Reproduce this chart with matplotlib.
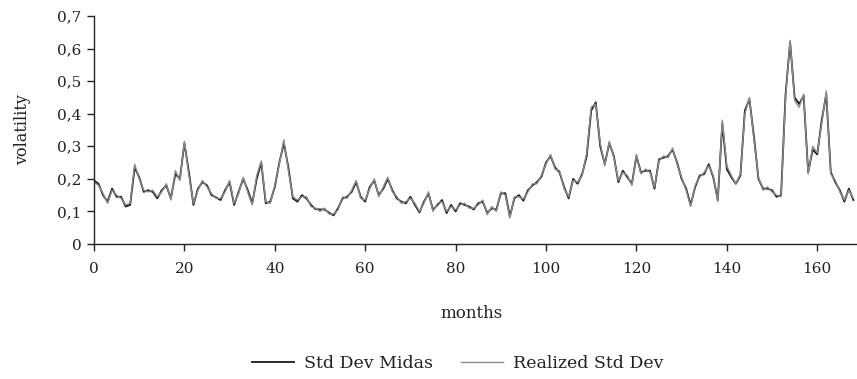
import matplotlib
matplotlib.use("Agg")
import matplotlib.pyplot as plt
from matplotlib.ticker import FuncFormatter
import numpy as np

midas = [
    0.195, 0.185, 0.15, 0.13, 0.17, 0.145, 0.145, 0.115, 0.12, 0.235,
    0.205, 0.16, 0.165, 0.16, 0.14, 0.165, 0.18, 0.14, 0.215, 0.2,
    0.31, 0.22, 0.12, 0.17, 0.19, 0.18, 0.15, 0.143, 0.135, 0.165,
    0.19, 0.12, 0.16, 0.2, 0.166, 0.125, 0.2, 0.25, 0.125, 0.13,
    0.175, 0.25, 0.31, 0.235, 0.14, 0.13, 0.15, 0.14, 0.12, 0.107,
    0.106, 0.106, 0.096, 0.088, 0.11, 0.14, 0.145, 0.16, 0.19, 0.145,
    0.13, 0.175, 0.195, 0.15, 0.17, 0.2, 0.165, 0.14, 0.13, 0.125,
    0.145, 0.12, 0.097, 0.13, 0.155, 0.105, 0.12, 0.135, 0.095, 0.12,
    0.1, 0.125, 0.12, 0.115, 0.106, 0.125, 0.13, 0.095, 0.11, 0.105,
    0.155, 0.156, 0.085, 0.14, 0.15, 0.133, 0.165, 0.18, 0.19, 0.207,
    0.25, 0.27, 0.235, 0.22, 0.175, 0.14, 0.2, 0.185, 0.215, 0.27,
    0.41, 0.435, 0.3, 0.245, 0.31, 0.27, 0.19, 0.225, 0.205, 0.185,
    0.27, 0.22, 0.225, 0.225, 0.17, 0.26, 0.265, 0.27, 0.29, 0.25,
    0.2, 0.17, 0.12, 0.175, 0.21, 0.215, 0.245, 0.205, 0.135, 0.37,
    0.23, 0.205, 0.185, 0.21, 0.41, 0.445, 0.33, 0.2, 0.17, 0.17,
    0.165, 0.145, 0.15, 0.46, 0.62, 0.45, 0.43, 0.455, 0.22, 0.29,
    0.275, 0.38, 0.46, 0.22, 0.19, 0.165, 0.13, 0.17, 0.135,
]

realized = [
    0.19, 0.18, 0.155, 0.125, 0.165, 0.15, 0.14, 0.12, 0.125, 0.245,
    0.2, 0.165, 0.16, 0.165, 0.145, 0.16, 0.185, 0.135, 0.225, 0.195,
    0.315, 0.21, 0.125, 0.165, 0.195, 0.175, 0.155, 0.14, 0.14, 0.16,
    0.195, 0.125, 0.155, 0.205, 0.16, 0.12, 0.21, 0.255, 0.13, 0.125,
    0.18, 0.245, 0.32, 0.225, 0.145, 0.135, 0.145, 0.145, 0.115, 0.11,
    0.1, 0.11, 0.092, 0.092, 0.105, 0.145, 0.14, 0.165, 0.195, 0.14,
    0.135, 0.17, 0.2, 0.145, 0.175, 0.205, 0.16, 0.145, 0.125, 0.13,
    0.14, 0.125, 0.1, 0.125, 0.16, 0.1, 0.125, 0.13, 0.1, 0.115,
    0.105, 0.12, 0.125, 0.11, 0.11, 0.12, 0.135, 0.09, 0.115, 0.1,
    0.16, 0.15, 0.08, 0.145, 0.145, 0.138, 0.16, 0.185, 0.185, 0.212,
    0.245, 0.275, 0.23, 0.225, 0.17, 0.145, 0.195, 0.19, 0.21, 0.28,
    0.42, 0.43, 0.31, 0.24, 0.315, 0.265, 0.195, 0.22, 0.21, 0.18,
    0.275, 0.215, 0.23, 0.22, 0.175, 0.255, 0.27, 0.265, 0.295, 0.245,
    0.205, 0.165, 0.115, 0.18, 0.205, 0.22, 0.24, 0.21, 0.13, 0.38,
    0.24, 0.21, 0.185, 0.215, 0.4, 0.45, 0.32, 0.205, 0.165, 0.175,
    0.16, 0.15, 0.145, 0.45, 0.625, 0.44, 0.42, 0.46, 0.215, 0.3,
    0.28, 0.37, 0.47, 0.215, 0.195, 0.16, 0.135, 0.165, 0.14,
]

x_ticks = [0, 20, 40, 60, 80, 100, 120, 140, 160]
y_ticks = [0, 0.1, 0.2, 0.3, 0.4, 0.5, 0.6, 0.7]
series_labels = ["Std Dev Midas", "Realized Std Dev"]

W, H = 857, 379
fig = plt.figure(figsize=(W / 100, H / 100), dpi=100)
plt.rcParams['font.family'] = ['DejaVu Serif']

left, right, bottom, top = 94, 857, 244, 16
ax = fig.add_axes([left / W, 1 - bottom / H, (right - left) / W, (bottom - top) / H])

x_m = np.arange(len(midas))
x_r = np.arange(len(realized))
l1, = ax.plot(x_m, midas, color="#1a1a1a", lw=1.3, label=series_labels[0])
l2, = ax.plot(x_r, realized, color="#8a8a8a", lw=1.0, label=series_labels[1])

ax.set_xlim(0, 168.8)
ax.set_ylim(0, 0.7)
ax.set_xticks(x_ticks)
ax.set_yticks(y_ticks)

def fmt(v, pos):
    if abs(v) < 1e-9:
        return "0"
    return ("%.1f" % v).replace(".", ",")

ax.yaxis.set_major_formatter(FuncFormatter(fmt))

for s in ["top", "right"]:
    ax.spines[s].set_visible(False)
for s in ["left", "bottom"]:
    ax.spines[s].set_linewidth(1.0)
    ax.spines[s].set_color("#222222")
ax.tick_params(axis="both", direction="out", length=5, width=1.0, colors="#222222",
               labelsize=11, labelcolor="#222222")
ax.tick_params(axis="x", pad=8)
ax.tick_params(axis="y", pad=4)

fig.text(23 / W, 1 - 130 / H, "volatility", rotation=90, ha="center", va="center",
         fontsize=11.5, color="#222222")
fig.text(472 / W, 1 - 313 / H, "months", ha="center", va="center",
         fontsize=12, color="#222222")

fig.legend(handles=[l1, l2], loc="center", bbox_to_anchor=(458 / W, 1 - 364 / H),
           ncol=2, frameon=False, fontsize=12.5, handlelength=2.4, columnspacing=1.6,
           handletextpad=0.6, labelcolor="#222222")

fig.savefig("out.png", dpi=100)
